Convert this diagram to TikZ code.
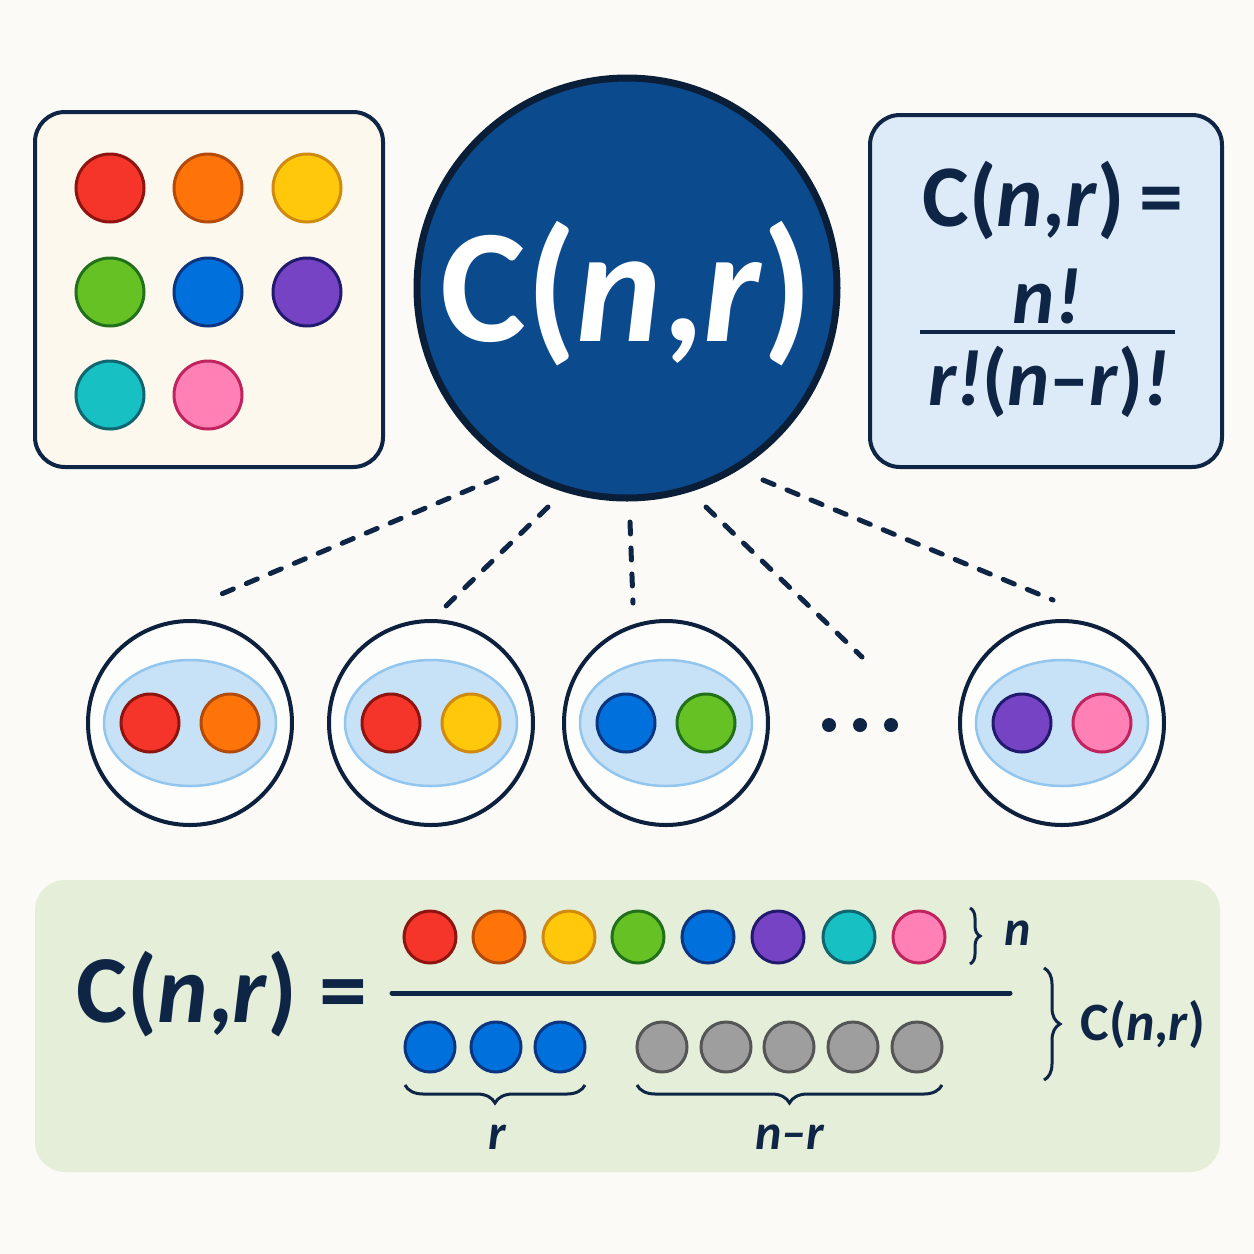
\documentclass[tikz,border=0pt]{standalone}
\usepackage{fontspec}
\setmainfont{Carlito}
\usetikzlibrary{shapes.geometric,decorations.pathreplacing,calc}
\definecolor{bg}{HTML}{FBFAF6}
\definecolor{navy}{HTML}{0E2546}
\definecolor{bigblue}{HTML}{0B4A8C}
\definecolor{cream}{HTML}{FDF8EE}
\definecolor{lblue}{HTML}{DDEBF8}
\definecolor{lgreen}{HTML}{E4EED9}
\definecolor{ellf}{HTML}{C7E2F6}
\definecolor{elld}{HTML}{92C6EE}
\definecolor{cRed}{HTML}{F5352A}\definecolor{dRed}{HTML}{8E1410}
\definecolor{cOra}{HTML}{FF7409}\definecolor{dOra}{HTML}{B44A0A}
\definecolor{cYel}{HTML}{FFC80A}\definecolor{dYel}{HTML}{D08A10}
\definecolor{cGre}{HTML}{66C124}\definecolor{dGre}{HTML}{22701A}
\definecolor{cBlu}{HTML}{0070DC}\definecolor{dBlu}{HTML}{0C3580}
\definecolor{cPur}{HTML}{7643C4}\definecolor{dPur}{HTML}{221A6E}
\definecolor{cTea}{HTML}{16C0C3}\definecolor{dTea}{HTML}{11656E}
\definecolor{cPin}{HTML}{FF80B4}\definecolor{dPin}{HTML}{C0245F}
\definecolor{cGra}{HTML}{9E9E9E}\definecolor{dGra}{HTML}{555555}
\newcommand{\Cnr}{C(\textit{n},\textit{r})}
\tikzset{
  panel/.style={rounded corners=30pt, line width=4pt, draw=navy},
  bigdot/.style 2 args={circle, fill=#1, draw=#2, line width=3pt, minimum size=68pt, inner sep=0pt},
  middot/.style 2 args={circle, fill=#1, draw=#2, line width=3pt, minimum size=58pt, inner sep=0pt},
  smalldot/.style 2 args={circle, fill=#1, draw=#2, line width=3pt, minimum size=50pt, inner sep=0pt},
  pairring/.style={circle, draw=navy!90!black, line width=4pt, fill=white!60!bg, minimum size=204pt, inner sep=0pt},
  pairell/.style={ellipse, fill=ellf, draw=elld, line width=2.5pt, minimum width=172pt, minimum height=126pt, inner sep=0pt},
  dashline/.style={navy, line width=5pt, line cap=round, dash pattern=on 12pt off 14pt},
  brc/.style={decorate, decoration={brace, amplitude=18pt}, navy, line width=3pt},
  txt/.style={text=navy, font=\bfseries, inner sep=0pt},
  tinydot/.style={circle, fill=navy, minimum size=14pt, inner sep=0pt}
}
\begin{document}
\begin{tikzpicture}[x=1pt,y=-1pt]
\useasboundingbox[fill=bg] (0,0) rectangle (1254,1254);

% top-left panel
\draw[panel, fill=cream] (35,112) rectangle (383,467);
\node[bigdot={cRed}{dRed}] (s1) at (110,188) {};
\node[bigdot={cOra}{dOra}] (s2) at (208,188) {};
\node[bigdot={cYel}{dYel}] (s3) at (307,188) {};
\node[bigdot={cGre}{dGre}] (s4) at (110,292) {};
\node[bigdot={cBlu}{dBlu}] (s5) at (208,292) {};
\node[bigdot={cPur}{dPur}] (s6) at (307,292) {};
\node[bigdot={cTea}{dTea}] (s7) at (110,395) {};
\node[bigdot={cPin}{dPin}] (s8) at (208,395) {};

% right panel
\draw[panel, fill=lblue] (870,115) rectangle (1222,467);
\node[txt, font=\fontsize{88}{92}\selectfont\bfseries] (f1) at (1053,200) {\Cnr\,=};
\node[txt, font=\fontsize{80}{84}\selectfont\bfseries] (f2) at (1047,296) {\textit{n!}};
\draw[navy, line width=4pt] (920,332) -- (1175,332);
\node[txt, font=\fontsize{80}{84}\selectfont\bfseries] (f3) at (1049,382) {\textit{r!}(\textit{n}–\textit{r})\textit{!}};

% big circle
\node[circle, fill=bigblue, draw=navy!80!black, line width=7pt, minimum size=420pt, inner sep=0pt] (main) at (627,288) {};
\node[text=white, font=\fontsize{162}{170}\selectfont\bfseries, inner sep=0pt] (mainlbl) at (627,294) {\Cnr};

% pair circles
\foreach \i/\x/\ca/\da/\cb/\db in {1/190/cRed/dRed/cOra/dOra, 2/431/cRed/dRed/cYel/dYel, 3/666/cBlu/dBlu/cGre/dGre, 4/1062/cPur/dPur/cPin/dPin}{
  \node[pairring] (p\i) at (\x,723) {};
  \node[pairell] (e\i) at (\x,723) {};
  \node[middot={\ca}{\da}] (pa\i) at ($(p\i)+(-40,0)$) {};
  \node[middot={\cb}{\db}] (pb\i) at ($(p\i)+(40,0)$) {};
}
\node[tinydot] (d1) at (829,725) {};
\node[tinydot] (d2) at (860,725) {};
\node[tinydot] (d3) at (891,725) {};

% dashed connectors (start just outside the big circle)
\coordinate (t1) at (212,598);
\coordinate (t2) at (445,607);
\coordinate (t3) at (633,603);
\coordinate (t4) at (862,657);
\coordinate (t5) at (1053,600);
\draw[dashline] ($(main.center)+(-130,190)$) -- (t1);
\draw[dashline] ($(main.center)+(-79,219)$) -- (t2);
\draw[dashline] ($(main.center)+(3,234)$) -- (t3);
\draw[dashline] ($(main.center)+(79,219)$) -- (t4);
\draw[dashline] ($(main.center)+(136,192)$) -- (t5);

% bottom panel
\fill[lgreen, rounded corners=30pt] (35,880) rectangle (1220,1172);
\node[txt, font=\fontsize{96}{100}\selectfont\bfseries] (lhs) at (222,994) {\Cnr{} =};
\foreach \i/\x/\c/\d in {1/430/cRed/dRed,2/499/cOra/dOra,3/569/cYel/dYel,4/638/cGre/dGre,5/708/cBlu/dBlu,6/778/cPur/dPur,7/849/cTea/dTea,8/919/cPin/dPin}{
  \node[smalldot={\c}{\d}, minimum size=52pt] (n\i) at (\x,937) {};
}
\draw[navy, line width=5pt, line cap=round] (392,993) -- (1010,993);
\foreach \i/\x in {1/430,2/496,3/560}{
  \node[smalldot={cBlu}{dBlu}] (r\i) at (\x,1047) {};
}
\foreach \i/\x in {1/662,2/726,3/789,4/853,5/917}{
  \node[smalldot={cGra}{dGra}] (g\i) at (\x,1047) {};
}
\draw[brc] (585,1085) -- (405,1085);
\draw[brc] (942,1085) -- (637,1085);
\node[txt, font=\fontsize{50}{54}\selectfont\bfseries\itshape] (rl) at (497,1137) {r};
\node[txt, font=\fontsize{50}{54}\selectfont\bfseries\itshape] (nrl) at (790,1137) {n–r};
\draw[brc, decoration={amplitude=10pt}] (970,908) -- (970,964);
\node[txt, font=\fontsize{50}{54}\selectfont\bfseries\itshape] (nl) at (1018,933) {n};
\draw[brc, decoration={amplitude=16pt}] (1044,968) -- (1044,1080);
\node[txt, font=\fontsize{54}{58}\selectfont\bfseries] (cl) at (1143,1025) {\Cnr};
\end{tikzpicture}
\end{document}
